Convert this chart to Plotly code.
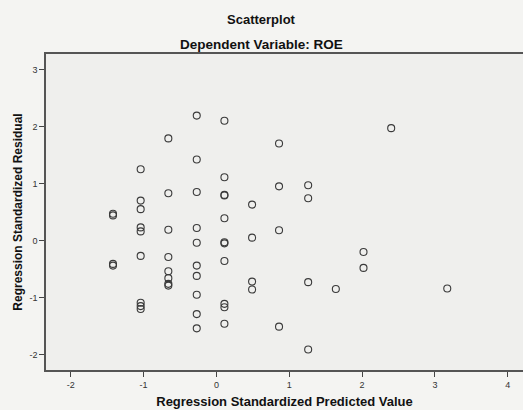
import plotly.graph_objects as go

predicted = [-1.42, -1.42, -1.42, -1.42,
             -1.04, -1.04, -1.04, -1.04, -1.04, -1.04, -1.04, -1.04, -1.04,
             -0.66, -0.66, -0.66, -0.66, -0.66, -0.66, -0.66, -0.66,
             -0.27, -0.27, -0.27, -0.27, -0.27, -0.27, -0.27, -0.27, -0.27, -0.27,
             0.11, 0.11, 0.11, 0.11, 0.11, 0.11, 0.11, 0.11, 0.11, 0.11, 0.11,
             0.49, 0.49, 0.49, 0.49,
             0.86, 0.86, 0.86, 0.86,
             1.26, 1.26, 1.26, 1.26,
             1.64,
             2.02, 2.02,
             2.40,
             3.17]
residual = [0.47, 0.44, -0.41, -0.44,
            1.25, 0.70, 0.55, 0.23, 0.16, -0.27, -1.09, -1.15, -1.20,
            1.79, 0.83, 0.19, -0.29, -0.54, -0.66, -0.76, -0.79,
            2.19, 1.42, 0.85, 0.22, -0.04, -0.44, -0.62, -0.95, -1.29, -1.54,
            2.10, 1.11, 0.80, 0.79, 0.39, -0.03, -0.05, -0.36, -1.11, -1.17, -1.46,
            0.63, 0.05, -0.72, -0.86,
            1.70, 0.95, 0.18, -1.51,
            0.97, 0.74, -0.73, -1.91,
            -0.85,
            -0.20, -0.48,
            1.97,
            -0.84]
x_ticks = [-2, -1, 0, 1, 2, 3, 4]
y_ticks = [-2, -1, 0, 1, 2, 3]

font_family = "Liberation Sans, Arial, sans-serif"

fig = go.Figure()
fig.add_trace(go.Scatter(
    x=predicted, y=residual, mode="markers",
    marker=dict(symbol="circle-open", size=7, color="#3a3a3a", line=dict(width=1.1, color="#3a3a3a")),
    hoverinfo="x+y", showlegend=False))

# plot area: left 46, top 54, bottom 370 (height 316)
plot_top, plot_bottom, plot_left = 54, 370, 46
plot_h = plot_bottom - plot_top
plot_w = 523 - plot_left

def title_ann(text, ypix, size):
    return dict(text=f"<b>{text}</b>", x=(261.5 - plot_left) / plot_w,
                y=(plot_bottom - ypix) / plot_h, xref="paper", yref="paper",
                xanchor="center", yanchor="middle", showarrow=False,
                font=dict(size=size, family=font_family, color="#111"))

fig.update_layout(
    width=523, height=410,
    margin=dict(l=plot_left, r=0, t=plot_top, b=410 - plot_bottom, autoexpand=False),
    paper_bgcolor="#f4f4f2",
    plot_bgcolor="#efefed",
    font=dict(family=font_family, color="#222"),
    annotations=[
        title_ann("Scatterplot", 19, 13),
        title_ann("Dependent Variable: ROE", 44, 13.5),
    ],
)

fig.update_xaxes(
    range=[-2.34, 4.21], tickvals=x_ticks, ticktext=[str(t) for t in x_ticks],
    showgrid=False, zeroline=False,
    showline=True, linecolor="#555", linewidth=1.5, mirror=True,
    ticks="outside", ticklen=5, tickcolor="#444", tickwidth=1,
    tickfont=dict(size=9, color="#333"),
    title=dict(text="<b>Regression Standardized Predicted Value</b>",
               font=dict(size=13, color="#111"), standoff=8),
)
fig.update_yaxes(
    range=[-2.27, 3.27], tickvals=y_ticks, ticktext=[str(t) for t in y_ticks],
    showgrid=False, zeroline=False,
    showline=True, linecolor="#555", linewidth=1.5, mirror=False,
    ticks="outside", ticklen=5, tickcolor="#444", tickwidth=1,
    tickfont=dict(size=9, color="#333"),
    title=dict(text="<b>Regression Standardized Residual</b>",
               font=dict(size=12, color="#111"), standoff=4),
)

fig.write_html("out.html", config={"displayModeBar": False},
               post_script="document.body.style.margin='0';document.body.style.padding='0';")
